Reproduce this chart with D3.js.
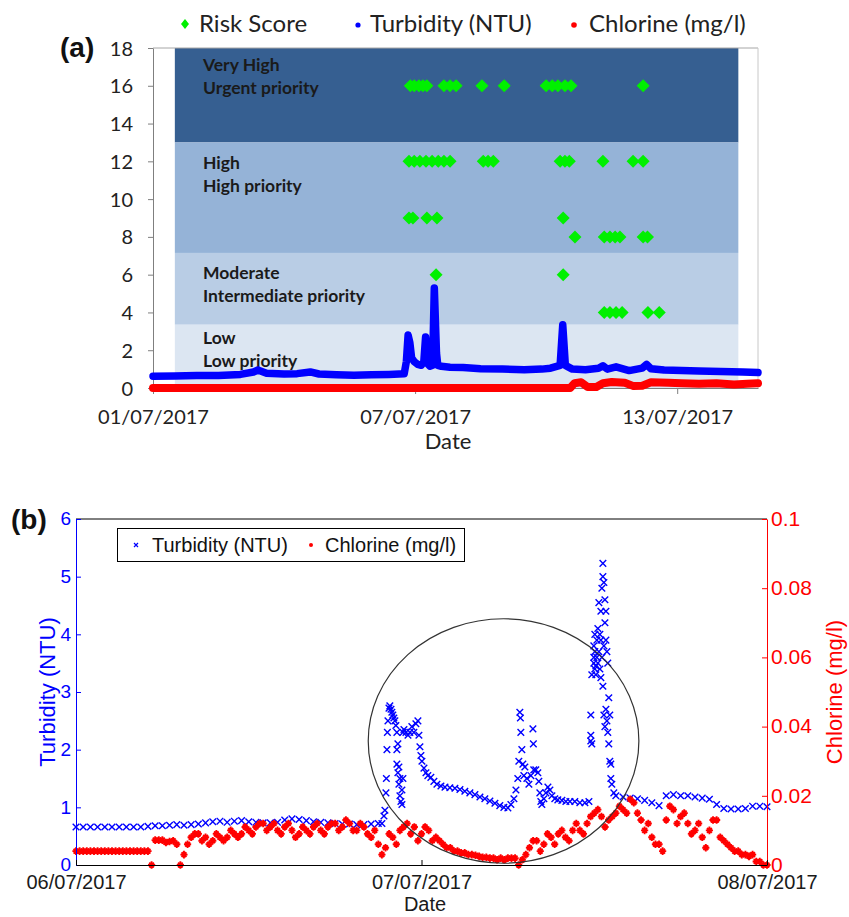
<!DOCTYPE html>
<html><head><meta charset="utf-8">
<script src="https://cdn.jsdelivr.net/npm/d3@7"></script>
<style>body{margin:0;background:#fff}svg{display:block}</style>
</head><body>
<svg id="c" width="849" height="917"></svg>
<script>
// ================= DATA =================
// ---- Panel (a) ----
const legendA = ["Risk Score", "Turbidity (NTU)", "Chlorine (mg/l)"];
const yTicksA = [0, 2, 4, 6, 8, 10, 12, 14, 16, 18];
const xTicksA = [0, 6, 12];                       // days after 01/07/2017
const xTickLabelsA = ["01/07/2017", "07/07/2017", "13/07/2017"];
const bandNames = ["Very High", "High", "Moderate", "Low"];
const bandPriorities = ["Urgent priority", "High priority", "Intermediate priority", "Low priority"];
const bandHigh = [18, 13, 7.15, 3.35];
const bandLow = [13, 7.15, 3.35, 0];
const bandDays = [0.5, 13.4];
// risk score points: day -> score
const risk16 = [5.89, 5.98, 6.09, 6.18, 6.27, 6.66, 6.80, 6.94, 7.53, 8.04, 9.00, 9.14, 9.27, 9.43, 9.57, 11.22];
const risk12 = [5.86, 5.98, 6.11, 6.25, 6.39, 6.53, 6.66, 6.80, 7.56, 7.67, 7.79, 9.32, 9.43, 9.53, 10.30, 10.99, 11.22];
const risk9 = [5.86, 5.95, 6.27, 6.50, 9.39];
const risk8 = [9.66, 10.33, 10.46, 10.58, 10.69, 11.22, 11.32];
const risk6 = [6.48, 9.39];
const risk4 = [10.33, 10.46, 10.60, 10.74, 11.33, 11.59];
// turbidity (NTU) [day, value]
const turbA = [[0,0.62],[0.5,0.64],[1,0.66],[1.5,0.66],[2,0.72],[2.3,0.85],[2.4,0.95],[2.6,0.78],[3,0.74],[3.3,0.76],[3.6,0.85],[3.8,0.74],[4.2,0.7],[4.6,0.68],[5,0.7],[5.4,0.72],[5.75,0.75],[5.8,1.4],[5.84,2.8],[5.88,2.4],[5.92,1.6],[5.98,1.4],[6.06,1.25],[6.14,1.2],[6.2,1.4],[6.24,2.7],[6.28,1.3],[6.34,1.15],[6.4,1.2],[6.44,5.3],[6.49,1.85],[6.52,1.2],[6.6,1.15],[6.8,1.1],[7.1,1.08],[7.5,1.02],[8,1.0],[8.5,0.97],[8.9,1.0],[9.1,1.05],[9.2,1.12],[9.32,1.2],[9.38,3.35],[9.44,1.2],[9.6,1.0],[9.9,0.97],[10.2,1.05],[10.3,1.18],[10.4,1.0],[10.6,1.12],[10.7,1.05],[10.9,0.92],[11.2,1.05],[11.3,1.25],[11.4,1.02],[11.7,0.95],[12.1,0.93],[12.5,0.9],[13,0.88],[13.5,0.85],[13.85,0.82]];
// chlorine (mg/l) [day, value]
const chlorA = [[0,0],[9.55,0],[9.65,0.25],[9.8,0.3],[9.95,0.05],[10.15,0.05],[10.3,0.25],[10.5,0.32],[10.8,0.28],[11.0,0.1],[11.2,0.12],[11.4,0.3],[11.8,0.28],[12.1,0.25],[12.5,0.22],[12.9,0.25],[13.3,0.18],[13.6,0.22],[13.85,0.25]];

// ---- Panel (b) ----
const legendB = ["Turbidity (NTU)", "Chlorine (mg/l)"];
const yTicksB = [0, 1, 2, 3, 4, 5, 6];
const yTicksC = [0, 0.02, 0.04, 0.06, 0.08, 0.1];
const yTickLabelsC = ["0", "0.02", "0.04", "0.06", "0.08", "0.1"];
const xTicksB = [0, 24, 48];                      // hours after 06/07/2017 00:00
const xTickLabelsB = ["06/07/2017", "07/07/2017", "08/07/2017"];
// turbidity readings every 0.5 h from 0 h to 21 h
const turbBStart = 0, turbBStep = 0.5;
const turbBPre = [0.66,0.66,0.66,0.66,0.66,0.66,0.66,0.66,0.66,0.66,0.67,0.68,0.68,0.69,0.70,0.69,0.70,0.71,0.73,0.75,0.76,0.74,0.76,0.77,0.75,0.74,0.73,0.73,0.74,0.78,0.80,0.79,0.77,0.75,0.74,0.73,0.72,0.71,0.71,0.70,0.70,0.71,0.72];
// turbidity event readings [hour, value]
const turbBEvent = [[21.25,0.72],[21.39,0.85],[21.46,0.95],[21.53,1.25],[21.56,1.5],[21.6,2.0],[21.63,2.3],[21.67,2.5],[21.74,2.72],[21.8,2.76],[21.88,2.7],[21.94,2.65],[22.01,2.6],[22.08,2.55],[22.15,2.5],[22.22,2.42],[22.29,2.3],[22.29,2.0],[22.29,1.75],[22.36,2.1],[22.36,1.6],[22.43,1.7],[22.43,1.4],[22.5,1.5],[22.5,1.2],[22.57,1.1],[22.64,1.05],[22.64,1.3],[22.71,1.5],[22.71,2.3],[22.78,2.35],[22.92,2.3],[23.06,2.25],[23.19,2.3],[23.33,2.4],[23.47,2.3],[23.61,2.45],[23.75,2.5],[23.82,2.25],[23.89,2.05],[23.96,1.9],[24.03,1.8],[24.17,1.68],[24.31,1.6],[24.44,1.55],[24.65,1.52],[24.86,1.45],[25.07,1.4],[25.35,1.37],[25.63,1.35],[25.97,1.34],[26.32,1.33],[26.67,1.31],[27.01,1.28],[27.36,1.25],[27.71,1.22],[28.06,1.18],[28.4,1.15],[28.75,1.11],[29.1,1.07],[29.44,1.03],[29.72,1.0],[30.0,0.99],[30.21,1.05],[30.42,1.15],[30.56,1.3],[30.69,1.5],[30.76,1.8],[30.83,2.65],[30.87,2.55],[30.9,2.3],[30.97,2.0],[31.04,1.75],[31.11,1.55],[31.18,1.7],[31.32,1.5],[31.46,1.4],[31.6,1.55],[31.74,2.36],[31.77,2.1],[31.8,1.65],[31.94,1.65],[32.08,1.6],[32.15,1.45],[32.22,1.25],[32.29,1.1],[32.36,1.05],[32.5,1.15],[32.64,1.25],[32.78,1.35],[32.92,1.3],[33.06,1.2],[33.26,1.15],[33.47,1.13],[33.75,1.12],[34.03,1.1],[34.31,1.1],[34.65,1.1],[35.0,1.08],[35.35,1.08],[35.63,1.1],[35.76,2.6],[35.76,2.15],[35.76,2.25],[35.83,2.1],[35.83,3.3],[35.97,3.5],[35.97,3.8],[35.97,3.6],[36.04,3.4],[36.04,3.7],[36.04,4.0],[36.11,3.45],[36.11,3.3],[36.18,3.9],[36.18,3.6],[36.25,4.1],[36.25,3.5],[36.32,4.55],[36.32,3.7],[36.39,4.0],[36.39,3.4],[36.46,4.4],[36.46,3.25],[36.46,3.9],[36.53,4.8],[36.53,3.6],[36.6,5.23],[36.6,5.0],[36.6,3.1],[36.67,4.9],[36.67,3.8],[36.67,2.6],[36.74,4.6],[36.74,4.2],[36.74,2.4],[36.81,4.4],[36.81,3.9],[36.81,2.7],[36.88,3.7],[36.88,2.5],[36.94,3.5],[36.94,2.3],[37.01,2.9],[37.01,2.1],[37.08,2.6],[37.08,1.8],[37.15,1.75],[37.15,1.5],[37.22,1.4],[37.36,1.25],[37.5,1.2]];
// turbidity readings every 0.5 h from 38 h to 48 h
const turbBPostStart = 38;
const turbBPost = [1.18,1.16,1.15,1.12,1.08,1.03,1.2,1.22,1.2,1.2,1.18,1.16,1.14,1.05,0.98,0.97,0.97,0.98,1.02,1.02,1.01];
// chlorine readings every 0.5 h from 0 h (series 1) and from 0.25 h (series 2)
const chlorBStep = 0.5;
const chlorB1 = [0.004,0.004,0.004,0.004,0.004,0.004,0.004,0.004,0.004,0.004,0.004,0.0072,0.0072,0.0068,0.006,0.003,0.008,0.009,0.008,0.007,0.008,0.008,0.009,0.009,0.010,0.011,0.012,0.011,0.010,0.011,0.010,0.009,0.010,0.011,0.010,0.011,0.012,0.011,0.012,0.010,0.011,0.008,0.006,0.005,0.008,0.010,0.012,0.011,0.009,0.010,0.008,0.006,0.005,0.004,0.0035,0.003,0.0025,0.0022,0.002,0.002,0.002,0.002,0.0015,0.005,0.007,0.006,0.008,0.009,0.008,0.010,0.010,0.012,0.015,0.014,0.013,0.015,0.016,0.019,0.015,0.010,0.008,0.006,0.013,0.016,0.014,0.012,0.010,0.008,0.010,0.013,0.007,0.005,0.004,0.003,0.003,0.001,0.0];
const chlorB2 = [0.004,0.004,0.004,0.004,0.004,0.004,0.004,0.004,0.004,0.004,0,0.0072,0.0065,0.007,0,0.006,0.009,0.007,0.006,0.009,0.007,0.010,0.008,0.011,0.009,0.012,0.010,0.012,0.009,0.012,0.008,0.011,0.009,0.012,0.009,0.012,0.010,0.013,0.010,0.012,0.009,0.010,0.003,0.009,0.006,0.011,0.009,0.007,0.011,0.007,0.007,0.005,0.004,0.0035,0.003,0.0028,0.0022,0.002,0.0015,0.0015,0.002,0,0.003,0.007,0.004,0.009,0.006,0.010,0.007,0.012,0.009,0.014,0.016,0.011,0.014,0.017,0.015,0.018,0.013,0.012,0.006,0.004,0.017,0.012,0.015,0.009,0.012,0.005,0.013,0.008,0.006,0.004,0.003,0.0025,0.001,0.0];
// annotation ellipse (hours, NTU)
const ellipseB = {cx: 29.7, cy: 2.15, rx: 9.4, ry: 2.12};

// ================= DRAW =================
const svg = d3.select("#c");
const fA = "Lato, 'Open Sans', sans-serif";
const fB = "'Liberation Sans', Arial, sans-serif";
const GREEN = "#00f000", BLUE = "#0000ff", RED = "#ff0000";
const diamond = "M0,-6.5L6.5,0L0,6.5L-6.5,0Z";

// ---------- Panel (a) ----------
const xA = d3.scaleLinear().domain([0, 13.85]).range([153, 758]);
const yA = d3.scaleLinear().domain([0, 18]).range([388, 48]);
const gA = svg.append("g");
const bandColors = ["#365f91", "#95b3d7", "#b9cde5", "#dce6f2"];
const labelOff = [17, 21, 20, 13];
bandNames.forEach((n, i) => {
  gA.append("rect")
    .attr("x", xA(bandDays[0])).attr("width", xA(bandDays[1]) - xA(bandDays[0]))
    .attr("y", yA(bandHigh[i])).attr("height", yA(bandLow[i]) - yA(bandHigh[i]))
    .attr("fill", bandColors[i]);
  const ty = yA(bandHigh[i]) + labelOff[i] + 6;
  gA.append("text").attr("x", 203).attr("y", ty).text(n)
    .attr("font-family", fA).attr("font-weight", "bold").attr("font-size", 17.5).attr("fill", "#1a1a1a");
  gA.append("text").attr("x", 203).attr("y", ty + 23).text(bandPriorities[i])
    .attr("font-family", fA).attr("font-weight", "bold").attr("font-size", 17.5).attr("fill", "#1a1a1a");
});
// borders
gA.append("line").attr("x1", xA(0)).attr("x2", xA(13.85)).attr("y1", yA(18)).attr("y2", yA(18)).attr("stroke", "#a6a6a6");
gA.append("line").attr("x1", xA(13.85)).attr("x2", xA(13.85)).attr("y1", yA(18)).attr("y2", yA(0)).attr("stroke", "#c8c8c8");
// axes
const axLA = gA.append("g").attr("transform", `translate(${xA(0)},0)`)
  .call(d3.axisLeft(yA).tickValues(yTicksA).tickSize(5).tickSizeOuter(0).tickPadding(15));
const axBA = gA.append("g").attr("transform", `translate(0,${yA(0)})`)
  .call(d3.axisBottom(xA).tickValues(xTicksA).tickFormat((d, i) => xTickLabelsA[i]).tickSize(6).tickSizeOuter(0).tickPadding(16));
[axLA, axBA].forEach(a => {
  a.attr("font-family", fA).attr("font-size", 20);
  a.selectAll("path.domain").attr("stroke", "#7f7f7f");
  a.selectAll(".tick line").attr("stroke", "#7f7f7f");
  a.selectAll("text").attr("fill", "#222");
});
axLA.selectAll("text").attr("dy", "0.35em");
gA.append("text").attr("x", 448).attr("y", 449).attr("text-anchor", "middle").text("Date")
  .attr("font-family", fA).attr("font-size", 22).attr("fill", "#222");
// series
const lineA = d3.line().x(d => xA(d[0])).y(d => yA(d[1]));
gA.append("path").attr("d", lineA(turbA)).attr("fill", "none").attr("stroke", BLUE)
  .attr("stroke-width", 7.5).attr("stroke-linejoin", "round").attr("stroke-linecap", "round");
gA.append("path").attr("d", lineA(chlorA)).attr("fill", "none").attr("stroke", RED)
  .attr("stroke-width", 8).attr("stroke-linejoin", "round").attr("stroke-linecap", "round");
const riskRows = [[16, risk16], [12, risk12], [9, risk9], [8, risk8], [6, risk6], [4, risk4]];
const riskPts = [];
riskRows.forEach(([s, arr]) => arr.forEach(d => riskPts.push([d, s])));
gA.selectAll("path.risk").data(riskPts).enter().append("path").attr("class", "risk")
  .attr("d", diamond).attr("transform", d => `translate(${xA(d[0])},${yA(d[1])})`).attr("fill", GREEN);
// legend
const legA = svg.append("g").attr("font-family", fA).attr("font-size", 24).attr("fill", "#222");
legA.append("path").attr("d", "M0,-5L4,0L0,5L-4,0Z").attr("transform", "translate(185,24)").attr("fill", GREEN);
legA.append("text").attr("x", 199).attr("y", 32).text(legendA[0]);
legA.append("circle").attr("cx", 358).attr("cy", 25).attr("r", 2.6).attr("fill", BLUE);
legA.append("text").attr("x", 370).attr("y", 32).text(legendA[1]);
legA.append("circle").attr("cx", 574).attr("cy", 25).attr("r", 2.8).attr("fill", RED);
legA.append("text").attr("x", 589).attr("y", 32).text(legendA[2]);
svg.append("text").attr("x", 60).attr("y", 57).text("(a)")
  .attr("font-family", "'Liberation Sans', Arial, sans-serif").attr("font-weight", "bold").attr("font-size", 28).attr("fill", "#111");

// ---------- Panel (b) ----------
const xB = d3.scaleLinear().domain([0, 48]).range([76, 767]);
const yB = d3.scaleLinear().domain([0, 6]).range([865, 519]);
const yC = d3.scaleLinear().domain([0, 0.1]).range([865, 519]);
const gB = svg.append("g");
// series points
const turbPts = [];
turbBPre.forEach((v, i) => turbPts.push([turbBStart + i * turbBStep, v]));
turbBEvent.forEach(d => turbPts.push(d));
turbBPost.forEach((v, i) => turbPts.push([turbBPostStart + i * turbBStep, v]));
const chlPts = [];
chlorB1.forEach((v, i) => chlPts.push([i * chlorBStep, v]));
chlorB2.forEach((v, i) => chlPts.push([0.25 + i * chlorBStep, v]));
const xMark = "M-3.3,-3.3L3.3,3.3M-3.3,3.3L3.3,-3.3";
const plusMark = "M-3.6,0L3.6,0M0,-3.8L0,3.8M-2.4,-2.4L2.4,2.4M-2.4,2.4L2.4,-2.4";
gB.selectAll("path.tb").data(turbPts).enter().append("path").attr("class", "tb")
  .attr("d", xMark).attr("transform", d => `translate(${xB(d[0])},${yB(d[1])})`)
  .attr("stroke", BLUE).attr("stroke-width", 1.4).attr("fill", "none");
gB.selectAll("path.cl").data(chlPts).enter().append("path").attr("class", "cl")
  .attr("d", plusMark).attr("transform", d => `translate(${xB(d[0])},${yC(d[1])})`)
  .attr("stroke", RED).attr("stroke-width", 1.9).attr("fill", "none");
// ellipse annotation
gB.append("ellipse").attr("cx", xB(ellipseB.cx)).attr("cy", yB(ellipseB.cy))
  .attr("rx", xB(ellipseB.cx + ellipseB.rx) - xB(ellipseB.cx)).attr("ry", yB(0) - yB(ellipseB.ry))
  .attr("fill", "none").attr("stroke", "#333").attr("stroke-width", 1.2);
// frame
gB.append("line").attr("x1", xB(0)).attr("x2", xB(48)).attr("y1", yB(6)).attr("y2", yB(6)).attr("stroke", "#000");
const axLB = gB.append("g").attr("transform", `translate(${xB(0)},0)`)
  .call(d3.axisLeft(yB).tickValues(yTicksB).tickFormat(d3.format("d")).tickSize(-5).tickSizeOuter(0).tickPadding(5));
axLB.attr("font-family", fB).attr("font-size", 19);
axLB.selectAll("path.domain, .tick line").attr("stroke", BLUE);
axLB.selectAll("text").attr("fill", BLUE).attr("dy", "0.3em");
const axRB = gB.append("g").attr("transform", `translate(${xB(48)},0)`)
  .call(d3.axisRight(yC).tickValues(yTicksC).tickFormat((d, i) => yTickLabelsC[i]).tickSize(-5).tickSizeOuter(0).tickPadding(4));
axRB.attr("font-family", fB).attr("font-size", 21);
axRB.selectAll("path.domain, .tick line").attr("stroke", RED);
axRB.selectAll("text").attr("fill", RED).attr("dy", "0.3em");
const axXB = gB.append("g").attr("transform", `translate(0,${yB(0)})`)
  .call(d3.axisBottom(xB).tickValues(xTicksB).tickFormat((d, i) => xTickLabelsB[i]).tickSize(-5).tickSizeOuter(0).tickPadding(10));
axXB.attr("font-family", fB).attr("font-size", 20);
axXB.selectAll("path.domain, .tick line").attr("stroke", "#000");
axXB.selectAll("text").attr("fill", "#1a1a1a");
// titles
gB.append("text").attr("transform", "translate(55,692) rotate(-90)").attr("text-anchor", "middle")
  .text("Turbidity (NTU)").attr("font-family", fB).attr("font-size", 22).attr("fill", BLUE);
gB.append("text").attr("transform", "translate(842,692) rotate(-90)").attr("text-anchor", "middle")
  .text("Chlorine (mg/l)").attr("font-family", fB).attr("font-size", 22).attr("fill", RED);
gB.append("text").attr("x", 425).attr("y", 911).attr("text-anchor", "middle").text("Date")
  .attr("font-family", fB).attr("font-size", 20).attr("fill", "#1a1a1a");
// legend
const legB = gB.append("g").attr("font-family", fB).attr("font-size", 20).attr("fill", "#111");
legB.append("rect").attr("x", 117.5).attr("y", 528.5).attr("width", 347).attr("height", 33)
  .attr("fill", "#fff").attr("stroke", "#000");
legB.append("path").attr("d", "M-2,-2L2,2M-2,2L2,-2").attr("transform", "translate(136,545)")
  .attr("stroke", BLUE).attr("stroke-width", 1.2);
legB.append("text").attr("x", 152).attr("y", 552).text(legendB[0]);
legB.append("circle").attr("cx", 311).attr("cy", 545).attr("r", 2).attr("fill", RED);
legB.append("text").attr("x", 325).attr("y", 552).text(legendB[1]);
svg.append("text").attr("x", 11).attr("y", 529).text("(b)")
  .attr("font-family", "'Liberation Sans', Arial, sans-serif").attr("font-weight", "bold").attr("font-size", 28).attr("fill", "#111");
</script>
</body></html>
